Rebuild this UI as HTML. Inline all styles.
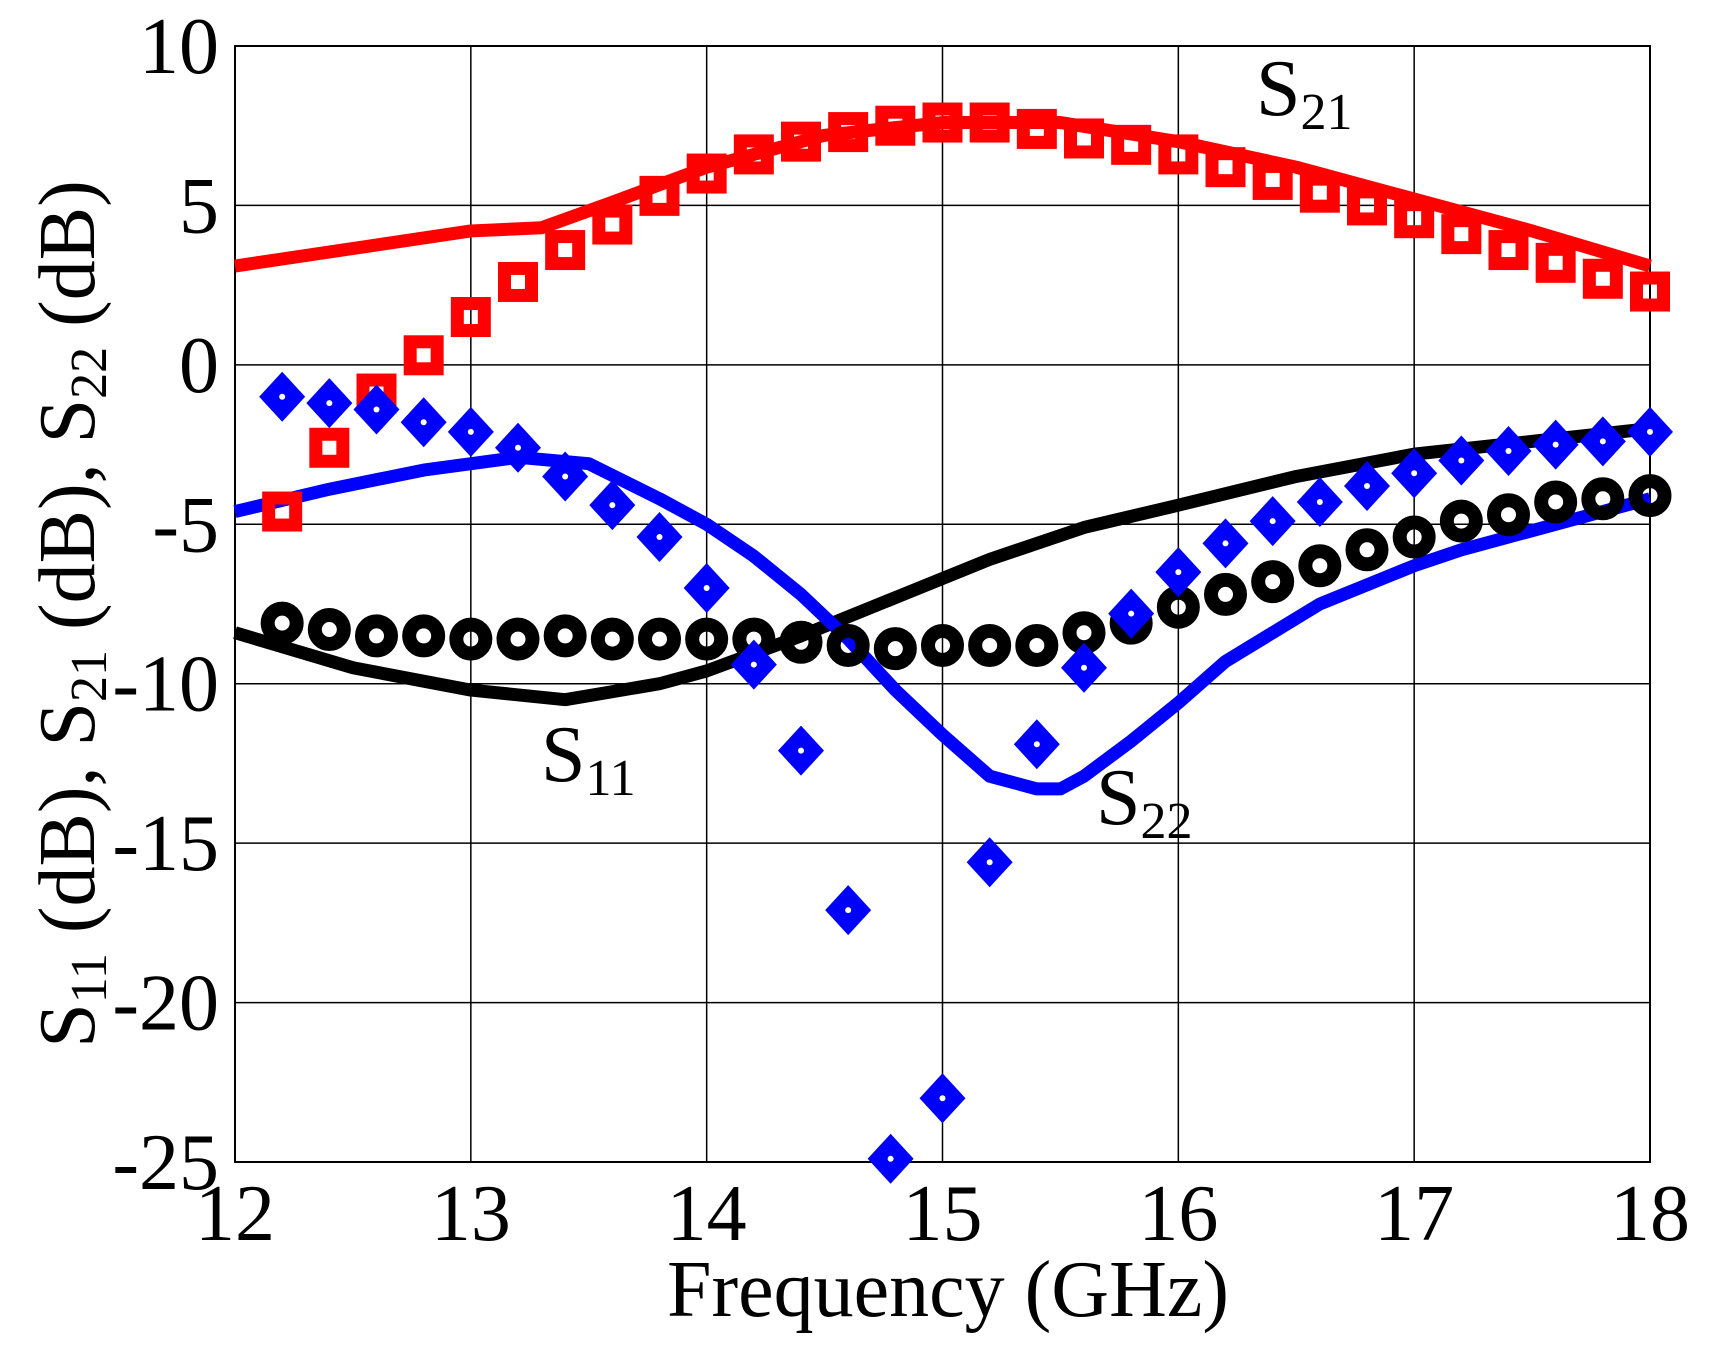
<!DOCTYPE html>
<html><head><meta charset="utf-8"><style>
html,body{margin:0;padding:0;background:#fff;}
svg{display:block;}
text{font-family:"Liberation Serif",serif;fill:#000;}
</style></head><body>
<svg id="s" width="1710" height="1353" viewBox="0 0 1710 1353" xmlns="http://www.w3.org/2000/svg">
<rect width="1710" height="1353" fill="#fff"/>
<g id="grid" stroke="#000" stroke-width="2" fill="none"></g>
<g id="data"></g>
<g id="lab" font-size="80"></g>
</svg>
<script>
const L=235,R=1650,T=46,B=1162;
const X=f=>L+(f-12)*(R-L)/6, Y=v=>T+(10-v)*(B-T)/35;
const NS="http://www.w3.org/2000/svg";
function el(p,t,a,txt){const e=document.createElementNS(NS,t);for(const k in a)e.setAttribute(k,a[k]);if(txt!=null)e.textContent=txt;p.appendChild(e);return e;}
const g=document.getElementById('grid'),d=document.getElementById('data'),lab=document.getElementById('lab');
for(let f=13;f<18;f++)el(g,'line',{x1:X(f),x2:X(f),y1:T,y2:B,'stroke-width':1.5});
for(let v=5;v>-25;v-=5)el(g,'line',{x1:L,x2:R,y1:Y(v),y2:Y(v),'stroke-width':1.5});
el(g,'rect',{x:L,y:T,width:R-L,height:B-T});
function line(pts,c){el(d,'polyline',{points:pts.map(p=>X(p[0])+','+Y(p[1])).join(' '),fill:'none',stroke:c,'stroke-width':13,'stroke-linejoin':'round'});}
const fs=[];for(let i=0;i<30;i++)fs.push(12.2+0.2*i);
const s21m=[-4.6,-2.6,-0.9,0.3,1.5,2.6,3.6,4.4,5.3,6.0,6.6,7.0,7.3,7.5,7.6,7.6,7.4,7.1,6.9,6.6,6.2,5.8,5.4,5.0,4.6,4.1,3.6,3.2,2.7,2.3];
const s22m=[-1.0,-1.2,-1.4,-1.8,-2.1,-2.6,-3.5,-4.4,-5.4,-7.0,-9.4,-12.1,-17.1,-24.9,-23.0,-15.6,-11.9,-9.5,-7.8,-6.5,-5.6,-4.9,-4.3,-3.8,-3.4,-3.0,-2.7,-2.5,-2.4,-2.1];
const s22f=fs.slice();s22f[13]=14.78;s22f[14]=15.0;
const s11m=[-8.1,-8.3,-8.5,-8.5,-8.6,-8.6,-8.5,-8.6,-8.6,-8.6,-8.6,-8.7,-8.8,-8.9,-8.8,-8.8,-8.8,-8.4,-8.1,-7.6,-7.2,-6.8,-6.3,-5.8,-5.4,-4.9,-4.7,-4.3,-4.2,-4.1];
line([[12,3.1],[13,4.2],[13.3,4.3],[13.6,5.1],[14,6.2],[14.5,7.2],[15,7.6],[15.5,7.6],[16,7.0],[16.5,6.2],[17,5.2],[17.5,4.2],[18,3.1]],'#f00');
line([[12,-8.4],[12.5,-9.5],[13,-10.2],[13.4,-10.5],[13.8,-10.0],[14,-9.6],[14.4,-8.5],[14.8,-7.3],[15.2,-6.1],[15.6,-5.1],[16,-4.4],[16.5,-3.5],[17,-2.8],[17.5,-2.4],[18,-2.0]],'#000');
line([[12,-4.6],[12.4,-3.9],[12.8,-3.3],[13.2,-2.9],[13.5,-3.1],[13.8,-4.2],[14,-5.0],[14.2,-6.0],[14.4,-7.2],[14.6,-8.6],[14.8,-10.2],[15,-11.6],[15.2,-12.9],[15.4,-13.3],[15.5,-13.3],[15.6,-12.9],[15.8,-11.8],[16,-10.6],[16.2,-9.3],[16.4,-8.4],[16.6,-7.5],[16.8,-6.9],[17,-6.3],[17.2,-5.8],[17.5,-5.2],[17.8,-4.6],[18,-4.2]],'#00f');
fs.forEach((f,i)=>{el(d,'circle',{cx:X(f),cy:Y(s11m[i]),r:14.5,fill:'none',stroke:'#000','stroke-width':14});});
fs.forEach((f,i)=>{const x=X(f),y=Y(s21m[i]);el(d,'rect',{x:x-13.5,y:y-13.5,width:27,height:27,fill:'none',stroke:'#f00','stroke-width':13});});
s22f.forEach((f,i)=>{const x=X(f),y=Y(s22m[i]);el(d,'polygon',{points:`${x},${y-25} ${x+23},${y} ${x},${y+25} ${x-23},${y}`,fill:'#00f'});el(d,'circle',{cx:x,cy:y,r:3,fill:'#fff'});});
for(let v=10;v>=-25;v-=5)el(lab,'text',{x:219,y:Y(v)+27,'text-anchor':'end'},String(v));
for(let f=12;f<=18;f++)el(lab,'text',{x:X(f),y:1240,'text-anchor':'middle'},String(f));
el(lab,'text',{x:948,y:1316,'text-anchor':'middle'},'Frequency (GHz)');
const yl=el(lab,'text',{x:0,y:0,'text-anchor':'middle',transform:'translate(94,614) rotate(-90)'});
yl.innerHTML='S<tspan font-size="52" dy="12">11</tspan><tspan dy="-12"> (dB), S</tspan><tspan font-size="52" dy="12">21</tspan><tspan dy="-12"> (dB), S</tspan><tspan font-size="52" dy="12">22</tspan><tspan dy="-12"> (dB)</tspan>';
function sl(x,y,sub){const t=el(lab,'text',{x:x,y:y});t.innerHTML='S<tspan font-size="52" dy="14">'+sub+'</tspan>';}
sl(1256,115,'21');sl(541,781,'11');sl(1096,824,'22');
</script>
</body></html>
